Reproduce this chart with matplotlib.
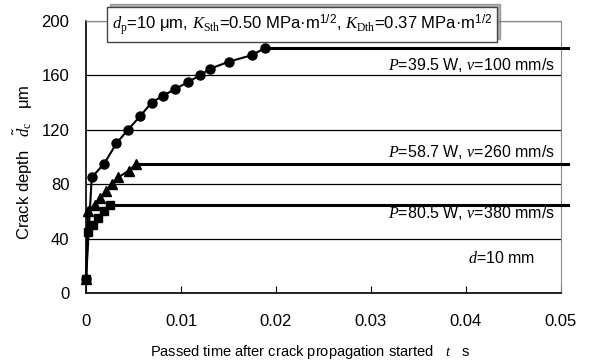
import matplotlib
matplotlib.use('Agg')
import matplotlib.pyplot as plt
from matplotlib.patches import Rectangle

plt.rcParams['font.family'] = ['Liberation Sans', 'DejaVu Sans']
plt.rcParams['mathtext.fontset'] = 'custom'
plt.rcParams['mathtext.rm'] = 'Liberation Sans'
plt.rcParams['mathtext.it'] = 'Liberation Serif:italic'
plt.rcParams['mathtext.sf'] = 'Liberation Serif'

# crack depth vs time
t_circ = [0, 0.0006, 0.0019, 0.0032, 0.0044, 0.0057, 0.0069, 0.0081, 0.0094,
          0.0107, 0.0120, 0.0131, 0.0150, 0.0175, 0.0188]
d_circ = [10, 85, 95, 110, 120, 130, 140, 145, 150, 155, 160, 165, 170, 175, 180]

t_tri = [0, 0.0002, 0.0009, 0.0015, 0.0021, 0.0027, 0.0034, 0.0045, 0.0053]
d_tri = [10, 60, 65, 70, 75, 80, 85, 90, 95]

t_sq = [0, 0.0002, 0.0007, 0.0013, 0.0019, 0.0025]
d_sq = [10, 45, 50, 55, 60, 65]

labels = [r'$P$=39.5 W, $v$=100 mm/s',
          r'$P$=58.7 W, $v$=260 mm/s',
          r'$P$=80.5 W, $v$=380 mm/s']
label_y = [168, 104, 59]

t_end = 0.0507

fig = plt.figure(figsize=(5.9, 3.61), dpi=100)
ax = fig.add_axes([0.1458, 0.1884, 0.805, 0.7534])

for t, d, m, ms in [(t_circ, d_circ, 'o', 6.5), (t_tri, d_tri, '^', 7), (t_sq, d_sq, 's', 6)]:
    ax.plot(t, d, color='black', lw=1.5, marker=m, ms=ms, zorder=3, clip_on=False)
    # final depth held to the end
    ax.plot([t[-1], t_end], [d[-1], d[-1]], color='black', lw=2.2, clip_on=False, zorder=3)

for s, y in zip(labels, label_y):
    ax.text(0.0494, y, s, ha='right', va='center', fontsize=11.5)
ax.text(0.0473, 26, r'$d$=10 mm', ha='right', va='center', fontsize=11.5)

info = r'$d_\mathsf{p}$=10 μm, $K_\mathsf{Sth}$=0.50 MPa·m$^{1/2}$, $K_\mathsf{Dth}$=0.37 MPa·m$^{1/2}$'
box_txt = ax.text(0.0027, 197.5, info, ha='left', va='center', fontsize=12, zorder=5, clip_on=False,
                  bbox=dict(boxstyle='square,pad=0.3', fc='white', ec='#444444', lw=1))

ax.set_xlim(0, 0.05)
ax.set_ylim(0, 200)
ax.set_xticks([0, 0.01, 0.02, 0.03, 0.04, 0.05])
ax.set_xticklabels(['0', '0.01', '0.02', '0.03', '0.04', '0.05'])
ax.set_yticks([0, 40, 80, 120, 160, 200])
ax.yaxis.grid(True, color='black', lw=0.9)
ax.set_axisbelow(True)
ax.tick_params(axis='x', direction='in', length=5, pad=15, labelsize=12)
ax.tick_params(axis='y', length=0, pad=12, labelsize=12)

ax.spines['left'].set_linewidth(1.2)
ax.spines['bottom'].set_linewidth(1.2)
for side in ['top', 'right']:
    ax.spines[side].set_color('#888888')
    ax.spines[side].set_linewidth(0.8)

ax.set_xlabel(r'Passed time after crack propagation started   $t$   s', fontsize=10.5)
ax.set_ylabel(r'Crack depth   $\tilde{d}_\mathsf{c}$   μm', fontsize=12)
ax.xaxis.set_label_coords(0.472, -0.184)
ax.yaxis.set_label_coords(-0.107, 0.48)

# grey shadow behind the info box, offset up and right
fig.canvas.draw()
bb = box_txt.get_bbox_patch().get_window_extent()
fig.patches.append(Rectangle((bb.x0 + 3, bb.y0 + 3), bb.width, bb.height,
                             transform=None, fc='#b0b0b0', ec='#999999', lw=1, zorder=0))
ax.set_zorder(1)
ax.patch.set_alpha(0)

fig.savefig('out.png', dpi=100)
